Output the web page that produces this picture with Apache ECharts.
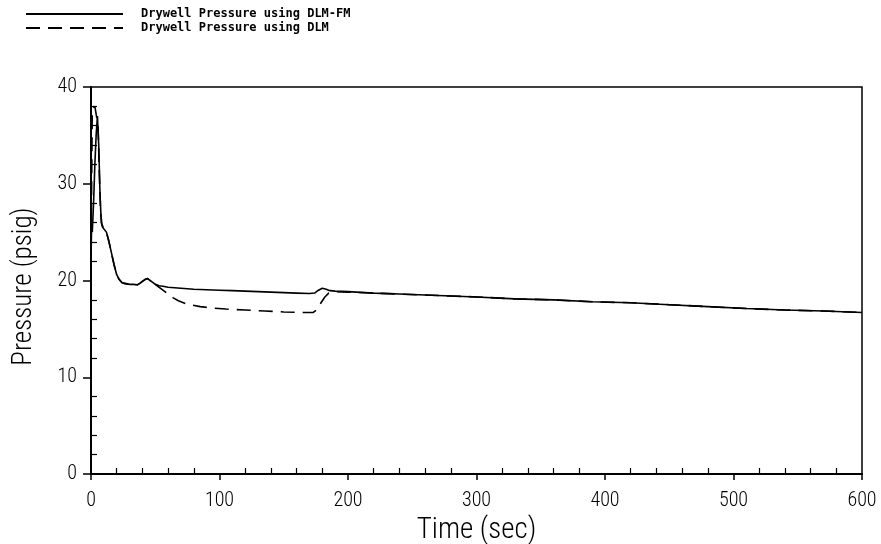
<!DOCTYPE html>
<html>
<head>
<meta charset="utf-8">
<script src="https://cdn.jsdelivr.net/npm/echarts@6/dist/echarts.min.js"></script>
<style>
html,body{margin:0;padding:0;background:#fff;}
#c{width:881px;height:544px;}
</style>
</head>
<body>
<div id="c"></div>
<script>
// ---- data ----
const seriesNames = ['Drywell Pressure using DLM-FM', 'Drywell Pressure using DLM'];
const xTicks = [0, 100, 200, 300, 400, 500, 600];
const yTicks = [0, 10, 20, 30, 40];

const tFM = [0, 0.5, 1, 2, 3, 4, 5, 6, 7, 8, 9, 10, 12, 14, 16, 18, 20, 22, 24, 26, 28, 30, 33, 36, 38, 40, 42, 44, 46, 48, 50, 53, 56, 60, 70, 80, 90, 100, 110, 120, 130, 140, 150, 160, 170, 174, 177, 180, 183, 186, 190, 200, 220, 240, 260, 280, 300, 330, 360, 390, 420, 450, 480, 510, 540, 570, 600];
const pFM = [22, 26, 25, 28, 32, 35, 37, 34, 29, 26, 25.5, 25.3, 25, 24, 22.8, 21.6, 20.6, 20.1, 19.8, 19.7, 19.65, 19.6, 19.6, 19.55, 19.7, 19.9, 20.1, 20.2, 20.0, 19.8, 19.6, 19.45, 19.4, 19.3, 19.2, 19.1, 19.05, 19.0, 18.95, 18.9, 18.85, 18.8, 18.75, 18.7, 18.65, 18.7, 19.0, 19.2, 19.1, 18.95, 18.9, 18.85, 18.7, 18.6, 18.5, 18.4, 18.3, 18.1, 18.0, 17.8, 17.7, 17.5, 17.3, 17.1, 16.95, 16.85, 16.7];

const tDLM = [0, 0.5, 1, 3, 4.5, 5.5, 6.5, 7.5, 8.5, 10, 12, 14, 16, 18, 20, 22, 24, 26, 28, 30, 33, 36, 38, 40, 42, 44, 46, 48, 50, 52, 56, 60, 64, 68, 75, 85, 95, 105, 120, 135, 150, 165, 173, 176, 179, 182, 185, 190, 200, 220, 240, 260, 280, 300, 330, 360, 390, 420, 450, 480, 510, 540, 570, 600];
const pDLM = [22, 30, 37.8, 38, 38.2, 36, 31, 27, 25.8, 25.3, 25, 24, 22.8, 21.6, 20.6, 20.1, 19.8, 19.7, 19.65, 19.6, 19.6, 19.55, 19.7, 19.9, 20.1, 20.2, 20.0, 19.8, 19.6, 19.4, 19.0, 18.6, 18.2, 17.9, 17.55, 17.3, 17.15, 17.05, 16.95, 16.85, 16.75, 16.7, 16.7, 17.0, 17.7, 18.3, 18.7, 18.85, 18.8, 18.7, 18.6, 18.5, 18.4, 18.3, 18.1, 18.0, 17.8, 17.7, 17.5, 17.3, 17.1, 16.95, 16.85, 16.7];

const zip = (xs, ys) => xs.map((x, i) => [x, ys[i]]);

const chart = echarts.init(document.getElementById('c'), null, {renderer: 'canvas'});
const narrow = "'Roboto Condensed', 'Liberation Sans Narrow', 'DejaVu Sans', sans-serif";
const narrowWeight = '300 condensed';

chart.setOption({
  animation: false,
  backgroundColor: '#fff',
  grid: {left: 91, right: 19, top: 87, bottom: 70, show: true, borderColor: '#000', borderWidth: 1.5,
         containLabel: false, outerBoundsMode: 'none'},
  legend: {
    orient: 'vertical', left: 25, top: 8, padding: 0, itemWidth: 97, itemHeight: 12, itemGap: 2,
    data: seriesNames,
    itemStyle: {opacity: 0},
    textStyle: {fontFamily: "'DejaVu Sans Mono', monospace", fontWeight: 'bold', fontSize: 12, color: '#000', padding: [0, 0, 0, 13]}
  },
  xAxis: {
    type: 'value', min: 0, max: 600, interval: 100,
    name: 'Time (sec)', nameLocation: 'middle', nameGap: 33,
    nameTextStyle: {fontFamily: narrow, fontWeight: narrowWeight, fontSize: 29, color: '#000'},
    axisLine: {show: true, onZero: false, lineStyle: {color: '#000', width: 2}},
    axisTick: {show: true, inside: true, length: -6, lineStyle: {color: '#000', width: 1.5}},
    minorTick: {show: true, splitNumber: 5, length: 6, lineStyle: {color: '#000', width: 1.2}},
    axisLabel: {show: true, margin: 17, fontFamily: narrow, fontWeight: narrowWeight, fontSize: 20, color: '#000',
      customValues: xTicks},
    splitLine: {show: false}
  },
  yAxis: {
    type: 'value', min: 0, max: 40, interval: 10,
    name: 'Pressure (psig)', nameLocation: 'middle', nameGap: 53, nameRotate: 90,
    nameTextStyle: {fontFamily: narrow, fontWeight: narrowWeight, fontSize: 27, color: '#000', padding: [0, 12, 0, 0]},
    axisLine: {show: true, onZero: false, lineStyle: {color: '#000', width: 2}},
    axisTick: {show: true, inside: true, length: -8, lineStyle: {color: '#000', width: 1.5}},
    minorTick: {show: true, splitNumber: 5, length: 6, lineStyle: {color: '#000', width: 1.2}},
    axisLabel: {show: true, margin: 14, fontFamily: narrow, fontWeight: narrowWeight, fontSize: 20, color: '#000',
      customValues: yTicks},
    splitLine: {show: false}
  },
  series: [
    {name: seriesNames[0], type: 'line', data: zip(tFM, pFM), showSymbol: false, symbol: 'none',
     lineStyle: {color: '#000', width: 1.6, type: 'solid'}, itemStyle: {color: '#000'}, z: 3},
    {name: seriesNames[1], type: 'line', data: zip(tDLM, pDLM), showSymbol: false, symbol: 'none',
     lineStyle: {color: '#000', width: 1.6, type: [14, 8]}, itemStyle: {color: '#000'}, z: 2}
  ]
});
</script>
</body>
</html>
